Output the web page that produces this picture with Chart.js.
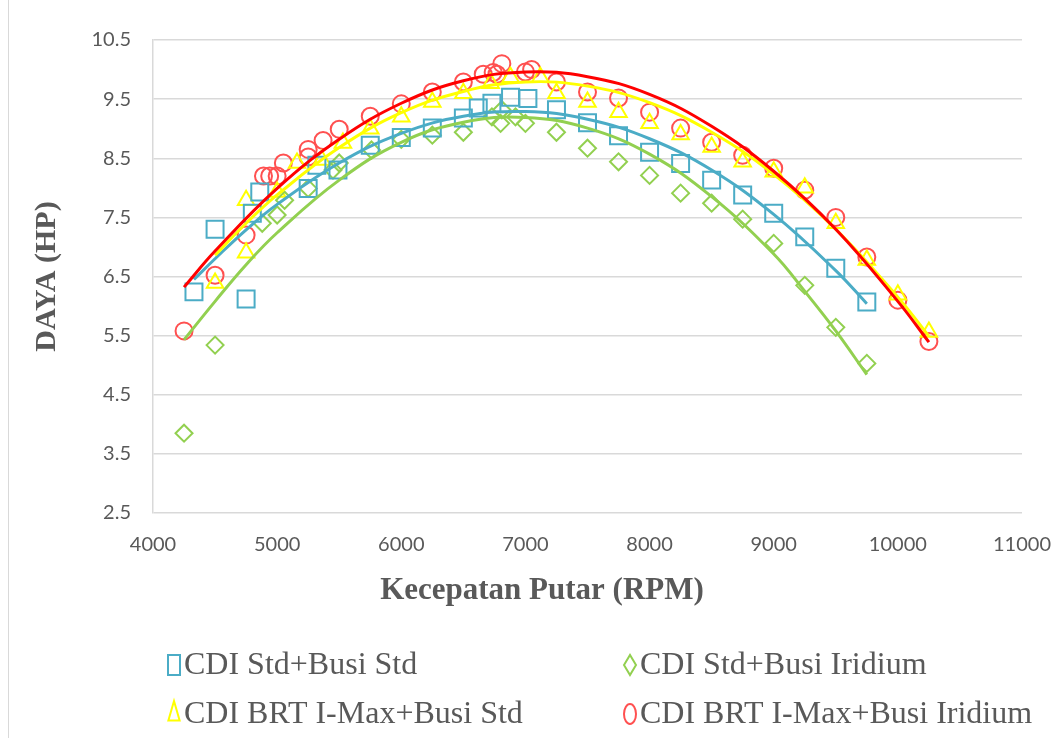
<!DOCTYPE html>
<html>
<head>
<meta charset="utf-8">
<script src="https://cdn.jsdelivr.net/npm/chart.js@4.4.1/dist/chart.umd.min.js"></script>
<style>
  html, body { margin: 0; padding: 0; background: #fff; }
  #wrap { width: 1060px; height: 738px; }
</style>
</head>
<body>
<div id="wrap"><canvas id="dayaChart" width="1060" height="738"></canvas></div>
<script>
// tick labels / ranges
const xTicks = [4000, 5000, 6000, 7000, 8000, 9000, 10000, 11000];
const yTicks = [2.5, 3.5, 4.5, 5.5, 6.5, 7.5, 8.5, 9.5, 10.5];

const seriesNames = ['CDI Std+Busi Std', 'CDI Std+Busi Iridium', 'CDI BRT I-Max+Busi Std', 'CDI BRT I-Max+Busi Iridium'];

// CDI Std + Busi Std (squares)
const stdStdRpm = [4330, 4500, 4750, 4800, 4860, 5250, 5320, 5490, 5750, 6000, 6250, 6500, 6620, 6730, 6880, 7020, 7250, 7500, 7750, 8000, 8250, 8500, 8750, 9000, 9250, 9500, 9750];
const stdStdHp = [6.24, 7.30, 6.12, 7.57, 7.93, 7.99, 8.38, 8.30, 8.72, 8.85, 9.01, 9.18, 9.35, 9.43, 9.53, 9.51, 9.32, 9.10, 8.88, 8.60, 8.41, 8.13, 7.88, 7.57, 7.17, 6.64, 6.07];

// CDI Std + Busi Iridium (diamonds)
const stdIrRpm = [4250, 4500, 4880, 5000, 5060, 5250, 5450, 5500, 5760, 6000, 6250, 6500, 6730, 6800, 6810, 6920, 7000, 7250, 7500, 7750, 8000, 8250, 8500, 8750, 9000, 9250, 9500, 9750];
const stdIrHp = [3.85, 5.34, 7.40, 7.54, 7.79, 7.99, 8.30, 8.42, 8.64, 8.82, 8.89, 8.94, 9.20, 9.09, 9.32, 9.20, 9.09, 8.94, 8.67, 8.44, 8.21, 7.91, 7.74, 7.47, 7.06, 6.35, 5.64, 5.03];

// CDI BRT I-Max + Busi Std (triangles)
const brtStdRpm = [4500, 4750, 4750, 5000, 5160, 5360, 5530, 5750, 6000, 6250, 6500, 6720, 6880, 7120, 7250, 7500, 7750, 8000, 8250, 8500, 8750, 9000, 9250, 9500, 9750, 10000, 10250];
const brtStdHp = [6.39, 6.90, 7.79, 7.93, 8.42, 8.47, 8.76, 9.00, 9.20, 9.45, 9.60, 9.77, 9.87, 9.87, 9.60, 9.45, 9.28, 9.09, 8.90, 8.69, 8.44, 8.27, 8.00, 7.40, 6.78, 6.19, 5.56];

// CDI BRT I-Max + Busi Iridium (circles)
const brtIrRpm = [4250, 4500, 4750, 4890, 4940, 5000, 5050, 5250, 5250, 5370, 5500, 5750, 6000, 6250, 6500, 6660, 6740, 6770, 6810, 7000, 7050, 7250, 7500, 7750, 8000, 8250, 8500, 8750, 9000, 9250, 9500, 9750, 10000, 10250];
const brtIrHp = [5.58, 6.52, 7.20, 8.20, 8.20, 8.20, 8.42, 8.65, 8.52, 8.80, 8.99, 9.21, 9.42, 9.62, 9.79, 9.92, 9.95, 9.92, 10.10, 9.96, 10.00, 9.79, 9.62, 9.52, 9.28, 9.01, 8.77, 8.55, 8.33, 7.96, 7.50, 6.83, 6.10, 5.40];

// trendlines
const trendStdStdRpm = [4330, 4500, 4750, 5000, 5500, 6000, 6500, 7000, 7500, 8000, 8500, 9000, 9500, 9750];
const trendStdStdHp = [6.45, 6.80, 7.29, 7.72, 8.42, 8.92, 9.21, 9.29, 9.16, 8.83, 8.30, 7.55, 6.60, 6.04];
const trendStdIrRpm = [4250, 4500, 4750, 5000, 5500, 6000, 6500, 7000, 7500, 8000, 8500, 9000, 9250, 9500, 9750];
const trendStdIrHp = [5.43, 6.08, 6.70, 7.24, 8.13, 8.77, 9.11, 9.19, 9.01, 8.57, 7.85, 6.88, 6.25, 5.58, 4.84];
const trendBrtStdRpm = [4500, 4750, 5000, 5500, 6000, 6500, 7000, 7500, 8000, 8500, 9000, 9500, 10000, 10250];
const trendBrtStdHp = [6.86, 7.40, 7.88, 8.68, 9.27, 9.63, 9.79, 9.72, 9.44, 8.94, 8.23, 7.30, 6.15, 5.49];
const trendBrtIrRpm = [4250, 4500, 5000, 5500, 6000, 6500, 7000, 7500, 8000, 8500, 9000, 9500, 10000, 10250];
const trendBrtIrHp = [6.32, 6.93, 7.99, 8.82, 9.43, 9.81, 9.96, 9.88, 9.58, 9.04, 8.28, 7.30, 6.08, 5.39];

const colBlue = '#4bacc6';
const colGreen = '#92d050';
const colYellow = '#ffff00';
const colRed = '#ff0000';
const colRedMarker = '#ff5050';
const textCol = '#595959';

function pts(xs, ys) {
  return xs.map((x, i) => ({ x: x, y: ys[i] }));
}

function trend(xs, ys, color) {
  return {
    data: pts(xs, ys),
    showLine: true,
    borderColor: color,
    borderWidth: 3,
    pointRadius: 0,
    tension: 0.4,
    fill: false,
    isTrend: true
  };
}

function markers(label, xs, ys, color, style, r) {
  return {
    label: label,
    data: pts(xs, ys),
    showLine: false,
    pointStyle: style,
    pointRadius: r,
    pointBorderWidth: 2,
    pointBorderColor: color,
    pointBackgroundColor: 'rgba(0,0,0,0)',
    borderColor: color,
    backgroundColor: 'rgba(0,0,0,0)'
  };
}

// first datasets are painted last (on top)
const datasets = [
  trend(trendBrtIrRpm, trendBrtIrHp, colRed),
  trend(trendBrtStdRpm, trendBrtStdHp, colYellow),
  trend(trendStdStdRpm, trendStdStdHp, colBlue),
  trend(trendStdIrRpm, trendStdIrHp, colGreen),
  markers(seriesNames[0], stdStdRpm, stdStdHp, colBlue, 'rect', 12),
  markers(seriesNames[1], stdIrRpm, stdIrHp, colGreen, 'rectRot', 8.5),
  markers(seriesNames[2], brtStdRpm, brtStdHp, colYellow, 'triangle', 9.5),
  markers(seriesNames[3], brtIrRpm, brtIrHp, colRedMarker, 'circle', 8.5)
];

// legend slots (2 columns, 2 rows) + x title + outer frame
const legendSlots = [[174, 665], [630, 665], [174, 714], [630, 714]];
const legendSize = [[14, 12], [10, 12], [13, 13], [10, 12]];

const excelExtras = {
  id: 'excelExtras',
  afterDraw(chart) {
    const ctx = chart.ctx;
    ctx.save();
    ctx.strokeStyle = '#d9d9d9';
    ctx.lineWidth = 1;
    ctx.beginPath();
    ctx.moveTo(8.5, 0);
    ctx.lineTo(8.5, chart.height);
    ctx.stroke();

    ctx.fillStyle = textCol;
    ctx.font = 'bold 31px "Liberation Serif", serif';
    ctx.textAlign = 'center';
    ctx.textBaseline = 'middle';
    ctx.fillText('Kecepatan Putar (RPM)', 542, 591);

    const markerSets = chart.data.datasets.filter(d => !d.isTrend);
    markerSets.forEach((ds, i) => {
      const [x, y] = legendSlots[i];
      ctx.save();
      ctx.strokeStyle = ds.pointBorderColor;
      ctx.fillStyle = 'rgba(0,0,0,0)';
      ctx.lineWidth = 2;
      Chart.helpers.drawPointLegend(ctx, {
        pointStyle: ds.pointStyle, radius: legendSize[i][0], borderWidth: 2, rotation: 0
      }, x, y, legendSize[i][1]);
      ctx.restore();
      ctx.font = '32px "Liberation Serif", serif';
      ctx.textAlign = 'left';
      ctx.textBaseline = 'middle';
      ctx.fillStyle = textCol;
      ctx.fillText(ds.label, x + 10, y + 1);
    });
    ctx.restore();
  }
};

new Chart(document.getElementById('dayaChart'), {
  type: 'scatter',
  data: { datasets: datasets },
  options: {
    responsive: false,
    animation: false,
    layout: { padding: { top: 40, right: 38, left: 29, bottom: 0 } },
    plugins: { legend: { display: false }, tooltip: { enabled: false } },
    scales: {
      x: {
        type: 'linear',
        min: xTicks[0],
        max: xTicks[xTicks.length - 1],
        ticks: {
          stepSize: 1000, padding: 3, color: textCol, font: { family: 'Lato', size: 20 },
          callback: v => String(v)
        },
        grid: {
          display: true, drawOnChartArea: false, drawTicks: true,
          tickLength: 17, tickColor: 'rgba(0,0,0,0)', color: 'rgba(0,0,0,0)'
        },
        border: { display: false },
        afterFit(s) { s.height = 225; }
      },
      y: {
        min: yTicks[0],
        max: yTicks[yTicks.length - 1],
        ticks: {
          stepSize: 1, padding: 22, color: textCol, font: { family: 'Lato', size: 20 },
          callback: v => v.toFixed(1)
        },
        grid: { color: '#d9d9d9', lineWidth: 1.5, drawTicks: false },
        border: { display: true, color: '#d9d9d9', width: 1.5 },
        title: {
          display: true, text: 'DAYA (HP)', color: textCol, padding: 0,
          font: { family: 'Liberation Serif', size: 30, weight: 'bold' }
        },
        afterFit(s) { s.width = 124; }
      }
    }
  },
  plugins: [excelExtras]
});
</script>
</body>
</html>
